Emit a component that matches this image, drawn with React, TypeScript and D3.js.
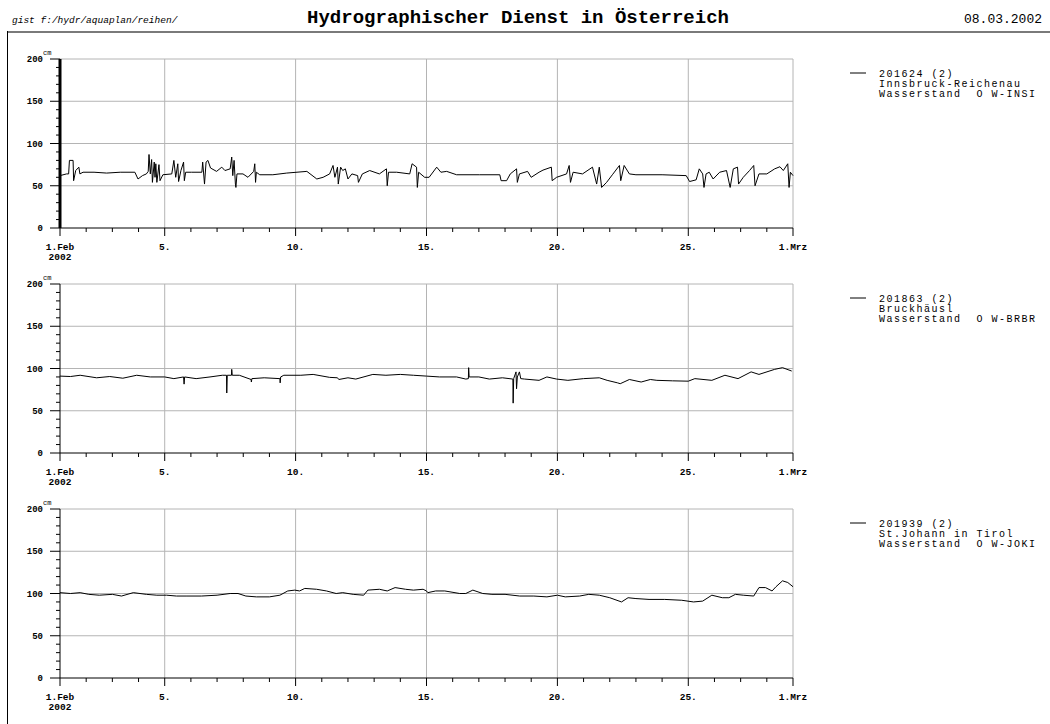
import React from 'react'
import { scaleLinear, line, range } from 'd3'

// Wasserstand in cm, [Tag im Februar, Wert]; Tag 29 = 1. März
const innsbruck: [number, number][] = [
  [1.0, 62], [1.25, 64], [1.33, 64], [1.36, 80], [1.5, 80], [1.52, 56], [1.6, 68], [1.72, 72], [1.76, 64], [1.88, 66],
  [2.3, 66], [2.78, 65], [3.3, 66], [3.86, 66], [3.98, 58], [4.15, 62], [4.3, 64], [4.37, 67], [4.4, 87], [4.45, 64],
  [4.5, 81], [4.53, 54], [4.6, 78], [4.63, 60], [4.66, 76], [4.7, 54], [4.78, 75], [4.82, 56], [4.93, 63], [5.27, 64],
  [5.35, 80], [5.42, 60], [5.5, 76], [5.53, 55], [5.62, 68], [5.72, 78], [5.75, 56], [5.8, 66], [6.03, 66], [6.42, 66],
  [6.45, 78], [6.52, 52], [6.58, 78], [6.65, 80], [6.75, 71], [6.98, 67], [7.18, 72], [7.3, 68], [7.5, 70], [7.56, 84],
  [7.6, 62], [7.65, 80], [7.7, 52], [7.72, 48], [7.76, 64], [7.99, 64], [8.18, 60], [8.4, 67], [8.44, 76], [8.47, 54],
  [8.5, 66], [8.63, 63], [9.13, 63], [9.66, 65], [10.43, 67], [10.81, 58], [11.05, 60], [11.3, 64], [11.43, 74], [11.5, 60],
  [11.6, 72], [11.63, 52], [11.72, 72], [11.8, 68], [11.9, 70], [12.0, 58], [12.15, 64], [12.37, 62], [12.4, 54], [12.55, 64],
  [12.83, 68], [13.2, 64], [13.47, 70], [13.5, 50], [13.55, 66], [13.86, 66], [14.36, 64], [14.45, 76], [14.62, 72], [14.65, 48],
  [14.7, 66], [14.93, 60], [15.1, 60], [15.39, 72], [15.55, 66], [15.77, 67], [16.15, 63], [17.03, 63], [17.8, 63], [17.85, 56],
  [18.06, 56], [18.2, 64], [18.44, 70], [18.47, 54], [18.55, 64], [18.86, 67], [19.0, 60], [19.3, 66], [19.45, 68.5], [19.77, 72],
  [19.8, 56], [19.97, 60], [20.35, 64], [20.45, 74], [20.5, 54], [20.6, 66], [20.96, 64], [21.34, 72], [21.5, 52], [21.6, 72],
  [21.69, 48], [21.88, 54], [22.1, 63], [22.37, 74], [22.42, 56], [22.55, 74], [22.75, 64], [23.0, 63], [24.0, 63], [24.92, 62],
  [25.05, 55], [25.3, 57], [25.42, 70], [25.55, 64], [25.6, 48], [25.68, 64], [25.8, 66], [25.95, 58], [26.2, 66], [26.46, 68],
  [26.6, 48], [26.72, 70], [26.88, 72], [26.92, 52], [27.1, 60], [27.34, 68], [27.5, 74], [27.55, 50], [27.7, 64], [28.0, 64],
  [28.3, 70], [28.5, 72.5], [28.63, 68], [28.8, 76], [28.85, 48], [28.9, 66], [29.0, 62],
]

const bruckhaeusl: [number, number][] = [
  [1.0, 91], [1.4, 90.5], [1.77, 92], [2.4, 89], [2.9, 90.5], [3.4, 88.5], [3.93, 92], [4.45, 90], [5.0, 90], [5.35, 88],
  [5.72, 90], [5.74, 81.5], [5.76, 90], [6.2, 88], [6.73, 90], [7.2, 92], [7.36, 92], [7.37, 71], [7.39, 92], [7.55, 92],
  [7.56, 99], [7.58, 92], [7.85, 92], [8.3, 87], [8.31, 84], [8.33, 88], [8.8, 89], [9.4, 88], [9.41, 83], [9.43, 90],
  [9.55, 92], [10.2, 92], [10.67, 93], [11.3, 89.5], [11.6, 89], [11.65, 87], [12.0, 89], [12.3, 87.5], [12.95, 93], [13.45, 92],
  [14.0, 93], [14.5, 92], [15.0, 91], [15.5, 90], [16.15, 90], [16.5, 87.5], [16.6, 88], [16.61, 101], [16.63, 90], [17.0, 90],
  [17.4, 87.5], [17.9, 89], [18.3, 87.5], [18.31, 59], [18.33, 88], [18.42, 96], [18.44, 76], [18.47, 90], [18.55, 96], [18.6, 88],
  [18.75, 87.5], [19.3, 86], [19.6, 90], [19.97, 87.5], [20.4, 86], [21.0, 88], [21.6, 89], [21.9, 86], [22.3, 83], [22.4, 82],
  [22.75, 87], [23.2, 84], [23.55, 87], [23.8, 86], [24.4, 85.4], [25.0, 85], [25.25, 88], [25.9, 86], [26.4, 92], [26.9, 88],
  [27.4, 96], [27.7, 93], [28.3, 99], [28.6, 101], [28.95, 97],
]

const stJohann: [number, number][] = [
  [1.0, 101], [1.4, 100], [1.77, 101], [2.1, 99], [2.5, 98], [3.0, 99], [3.35, 97], [3.8, 101], [4.3, 99], [4.7, 98],
  [5.07, 98], [5.45, 97], [5.85, 97], [6.4, 97], [7.0, 98], [7.5, 100], [7.8, 100], [8.1, 97], [8.5, 96], [9.0, 96],
  [9.4, 98], [9.7, 103], [9.97, 104], [10.15, 103], [10.35, 106], [10.8, 105], [11.18, 103], [11.55, 100], [11.8, 101], [12.2, 99],
  [12.6, 98], [12.76, 104], [13.2, 105], [13.5, 103], [13.8, 107], [14.2, 105], [14.5, 104], [14.87, 105], [15.0, 103], [15.05, 101],
  [15.35, 103], [15.7, 103], [16.27, 100], [16.5, 100], [16.77, 104], [17.15, 100], [17.5, 99], [18.0, 99], [18.56, 97], [19.1, 97],
  [19.6, 96], [20.0, 98], [20.3, 96], [20.85, 97], [21.2, 99], [21.6, 98], [22.0, 95], [22.45, 90], [22.7, 95], [23.0, 94],
  [23.5, 93], [24.1, 93], [24.75, 92], [25.2, 90], [25.55, 91], [25.9, 98], [26.3, 95], [26.55, 95], [26.8, 99], [27.1, 98],
  [27.5, 97], [27.7, 107], [27.95, 107], [28.2, 103], [28.35, 108], [28.6, 115], [28.8, 113], [29.0, 108],
]

const stationIds = ['201624 (2)', '201863 (2)', '201939 (2)']
const stationNames = ['Innsbruck-Reichenau', 'Bruckhäusl', 'St.Johann in Tirol']
const stationCodes = ['W-INSI', 'W-BRBR', 'W-JOKI']
const seriesList = [innsbruck, bruckhaeusl, stJohann]

const yMajor = [0, 50, 100, 150, 200]
const xTickDays = [1, 5, 10, 15, 20, 25, 29]
const xTickLabels = ['1.Feb', '5.', '10.', '15.', '20.', '25.', '1.Mrz']

const mono = '"Liberation Mono", "DejaVu Sans Mono", monospace'
const gridColor = '#b4b4b4'

function Panel({ idx, top }: { idx: number; top: number }) {
  const plotH = 169
  const x = scaleLinear().domain([1, 29]).range([60, 793])
  const y = scaleLinear().domain([0, 200]).range([top + plotH, top])
  const path = line<[number, number]>()
    .x(d => x(d[0]))
    .y(d => y(d[1]))
  const bottom = y(0)

  return (
    <g>
      {/* gitter */}
      {yMajor.filter(v => v > 0).map(v => (
        <line key={'gy' + v} x1={60} x2={793} y1={y(v)} y2={y(v)} stroke={gridColor} strokeWidth={1} />
      ))}
      {xTickDays.slice(1).map(d => (
        <line key={'gx' + d} x1={x(d)} x2={x(d)} y1={top} y2={bottom} stroke={gridColor} strokeWidth={1} />
      ))}

      {/* y-achse */}
      <line x1={60} x2={60} y1={top} y2={bottom} stroke="#000" strokeWidth={idx === 0 ? 3 : 1} />
      {range(0, 201, 10).map(v => (
        <line key={'ty' + v} x1={v % 50 === 0 ? 50 : 56} x2={60} y1={y(v)} y2={y(v)} stroke="#000" strokeWidth={1} />
      ))}
      {yMajor.map(v => (
        <text key={'ly' + v} x={43} y={y(v) + 3} textAnchor="end" fontFamily={mono} fontSize={9} fontWeight="bold">{v}</text>
      ))}
      <text x={43} y={top - 4} fontFamily={mono} fontSize={7}>cm</text>

      {/* x-achse */}
      <line x1={60} x2={793} y1={bottom} y2={bottom} stroke="#000" strokeWidth={1} />
      {range(1, 30).map(d => (
        <line key={'tx' + d} x1={x(d)} x2={x(d)} y1={bottom} y2={bottom + (xTickDays.includes(d) ? 8 : 4)} stroke="#000" strokeWidth={1} />
      ))}
      {xTickDays.map((d, i) => (
        <text key={'lx' + d} x={x(d)} y={bottom + 22} textAnchor="middle" fontFamily={mono} fontSize={9.5} fontWeight="bold">{xTickLabels[i]}</text>
      ))}
      <text x={x(1)} y={bottom + 32} textAnchor="middle" fontFamily={mono} fontSize={9.5} fontWeight="bold">2002</text>

      {/* ganglinie */}
      <path d={path(seriesList[idx]) || ''} fill="none" stroke="#000" strokeWidth={1} />

      {/* legende */}
      <line x1={850} x2={866} y1={top + 14} y2={top + 14} stroke="#000" strokeWidth={1} />
      <g fontFamily={mono} fontSize={10} letterSpacing={1.5}>
        <text x={879} y={top + 18} xmlSpace="preserve">{stationIds[idx]}</text>
        <text x={879} y={top + 28} xmlSpace="preserve">{stationNames[idx]}</text>
        <text x={879} y={top + 38} xmlSpace="preserve">{'Wasserstand\u00a0\u00a0O\u00a0' + stationCodes[idx]}</text>
      </g>
    </g>
  )
}

export default function App() {
  const panelTops = [59, 284, 509]
  return (
    <svg width={1050} height={724} style={{ position: 'absolute', left: 0, top: 0, background: '#fff' }}>
      <rect x={0} y={0} width={1050} height={724} fill="#fff" />
      <text x={12} y={23} fontFamily={mono} fontSize={9.5} fontStyle="italic">gist f:/hydr/aquaplan/reihen/</text>
      <text x={518} y={23} textAnchor="middle" fontFamily={mono} fontSize={19} fontWeight="bold">Hydrographischer Dienst in Österreich</text>
      <text x={1042} y={23} textAnchor="end" fontFamily={mono} fontSize={13}>08.03.2002</text>
      <line x1={7} x2={1050} y1={32} y2={32} stroke="#7a7a7a" strokeWidth={2} />
      <line x1={7.5} x2={7.5} y1={31} y2={724} stroke="#000" strokeWidth={1} />
      {panelTops.map((t, i) => (
        <Panel key={i} idx={i} top={t} />
      ))}
    </svg>
  )
}
